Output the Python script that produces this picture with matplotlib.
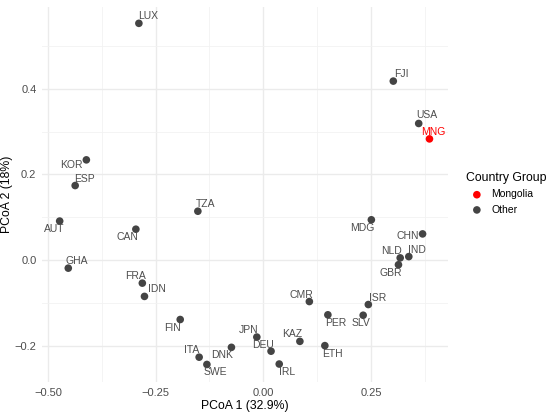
import matplotlib
matplotlib.use("Agg")
import matplotlib.pyplot as plt
from matplotlib.ticker import MultipleLocator

plt.rcParams['font.family'] = ['Liberation Sans', 'DejaVu Sans']

# PCoA coordinates
countries = ["LUX", "KOR", "ESP", "TZA", "AUT", "CAN", "GHA", "FRA", "IDN", "FIN",
             "JPN", "DEU", "DNK", "ITA", "SWE", "IRL", "KAZ", "ETH", "CMR", "PER",
             "SLV", "ISR", "MDG", "CHN", "NLD", "IND", "GBR", "FJI", "USA", "MNG"]
pcoa1 = [-0.289, -0.411, -0.437, -0.152, -0.473, -0.296, -0.453, -0.281, -0.276, -0.193,
         -0.015, 0.018, -0.074, -0.149, -0.131, 0.037, 0.085, 0.143, 0.107, 0.150,
         0.232, 0.244, 0.251, 0.370, 0.318, 0.338, 0.314, 0.302, 0.361, 0.386]
pcoa2 = [0.553, 0.234, 0.174, 0.114, 0.091, 0.072, -0.019, -0.054, -0.085, -0.139,
         -0.180, -0.213, -0.204, -0.227, -0.244, -0.243, -0.190, -0.200, -0.097, -0.128,
         -0.129, -0.104, 0.094, 0.061, 0.005, 0.008, -0.011, 0.418, 0.319, 0.283]
group = ["Mongolia" if c == "MNG" else "Other" for c in countries]

# label nudges in pixels (dx right, dy down), like ggrepel placed them
nudge = {
    "LUX": (9, -7), "KOR": (-15, 5), "ESP": (9, -7), "TZA": (8, -7), "AUT": (-5, 8),
    "CAN": (-8, 8), "GHA": (8, -7), "FRA": (-7, -7), "IDN": (12, -7), "FIN": (-8, 8),
    "JPN": (-8, -7), "DEU": (-8, -6), "DNK": (-9, 8), "ITA": (-8, -7), "SWE": (8, 8),
    "IRL": (8, 8), "KAZ": (-8, -7), "ETH": (8, 8), "CMR": (-8, -7), "PER": (8, 8),
    "SLV": (-2, 8), "ISR": (9, -7), "MDG": (-9, 8), "CHN": (-15, 2), "NLD": (-9, -7),
    "IND": (8, -7), "GBR": (-8, 8), "FJI": (8, -7), "USA": (8, -8), "MNG": (4, -7),
}

colors = {"Mongolia": "#FF0000", "Other": "#444444"}
label_colors = {"Mongolia": "#FF0000", "Other": "#4D4D4D"}


def fmt(v, nd):
    if abs(v) < 1e-9:
        v = 0.0
    s = ("%." + str(nd) + "f") % v
    return s.replace("-", "\u2212")


fig = plt.figure(figsize=(5.5, 4.15), dpi=100)
ax = fig.add_axes([0.0764, 0.0795, 0.7381, 0.9035])

for g in ["Mongolia", "Other"]:
    xs = [x for x, gg in zip(pcoa1, group) if gg == g]
    ys = [y for y, gg in zip(pcoa2, group) if gg == g]
    ax.scatter(xs, ys, s=30, color=colors[g], edgecolors='none', label=g, zorder=3)

for c, x, y, g in zip(countries, pcoa1, pcoa2, group):
    dx, dy = nudge[c]
    ax.annotate(c, (x, y), xytext=(dx * 0.72, -dy * 0.72), textcoords='offset points',
                ha='center', va='center', fontsize=7.5, color=label_colors[g], zorder=4)

ax.set_xlim(-0.514, 0.429)
ax.set_ylim(-0.285, 0.591)
ax.xaxis.set_major_locator(MultipleLocator(0.25))
ax.xaxis.set_minor_locator(MultipleLocator(0.125))
ax.yaxis.set_major_locator(MultipleLocator(0.2))
ax.yaxis.set_minor_locator(MultipleLocator(0.1))
ax.xaxis.set_major_formatter(plt.FuncFormatter(lambda v, p: fmt(v, 2)))
ax.yaxis.set_major_formatter(plt.FuncFormatter(lambda v, p: fmt(v, 1)))
ax.grid(which='major', color='#EBEBEB', linewidth=1.0)
ax.grid(which='minor', color='#F2F2F2', linewidth=0.6)
ax.set_axisbelow(True)
for s in ax.spines.values():
    s.set_visible(False)
ax.tick_params(which='both', length=0, labelsize=8, labelcolor='#4D4D4D', pad=4)
ax.set_xlabel("PCoA 1 (32.9%)", fontsize=8.8, labelpad=1.5)
ax.set_ylabel("PCoA 2 (18%)", fontsize=8.8, labelpad=1)

leg = ax.legend(title="Country Group", loc='upper left', bbox_to_anchor=(0.8405, 0.595),
                bbox_transform=fig.transFigure, frameon=False, fontsize=7.5,
                title_fontsize=8.8, handletextpad=0.4, labelspacing=0.5,
                markerscale=1.0, borderaxespad=0)
leg._legend_box.align = "left"

fig.savefig("out.png", dpi=100)
